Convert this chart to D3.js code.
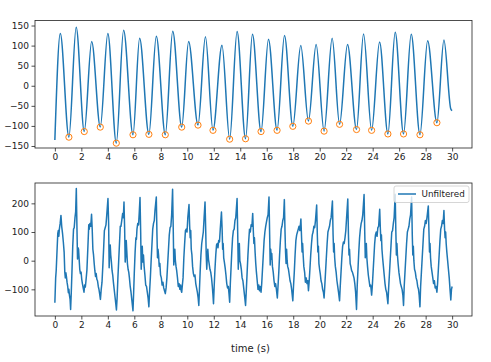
<!DOCTYPE html>
<html>
<head>
<meta charset="utf-8">
<script src="https://cdn.jsdelivr.net/npm/d3@7"></script>
<style>
  body { margin: 0; background: #fff; }
  svg text { font-family: "DejaVu Sans", sans-serif; fill: #222; }
  .axis text { font-size: 9px; }
  .axis path { display: none; }
  .axis line { stroke: #222; stroke-width: 0.8; }
</style>
</head>
<body>
<div class="viz"></div>
<script>
// Filtered signal: turning points (time in s, value), joined with a smooth curve
var filteredTime = [0, 0.41, 1.06, 1.61, 2.22, 2.78, 3.43, 4.0, 4.64, 5.19, 5.9, 6.4, 7.1, 7.66, 8.34,
                    8.9, 9.58, 10.1, 10.81, 11.37, 11.94, 12.62, 13.2, 13.76, 14.4, 14.92, 15.57, 16.13,
                    16.78, 17.34, 17.97, 18.57, 19.15, 19.73, 20.33, 20.94, 21.5, 22.1, 22.78, 23.31,
                    23.92, 24.52, 25.15, 25.7, 26.33, 26.91, 27.57, 28.15, 28.85, 29.38, 29.9, 30];
var filteredValue = [-135, 130, -128, 146, -114, 110, -103, 130, -143, 138, -122, 118, -121, 123, -122,
                     136, -103, 110, -98, 122, -111, 101, -133, 135, -132, 128, -114, 116,
                     -111, 125, -101, 100, -88, 103, -113, 118, -96, 103, -109, 129,
                     -111, 109, -120, 133, -120, 128, -122, 112, -92, 114, -58, -62];

// Detected troughs (orange circles)
var troughTime = [1.06, 2.22, 3.43, 4.64, 5.9, 7.1, 8.34, 9.58, 10.81, 11.94, 13.2, 14.4,
                  15.57, 16.78, 17.97, 19.15, 20.33, 21.5, 22.78, 23.92, 25.15, 26.33, 27.57, 28.85];
var troughValue = [-128, -114, -103, -143, -122, -121, -122, -103, -98, -111, -133, -132,
                   -114, -111, -101, -88, -113, -96, -109, -111, -120, -120, -122, -92];

// Unfiltered signal [time, value]
var unfiltered = [
  [0.00,-147],[0.06,-60],[0.10,-35],[0.16,30],[0.22,95],[0.26,105],[0.30,85],[0.34,110],[0.40,130],[0.46,158],[0.52,118],[0.58,95],[0.64,65],[0.70,30],[0.75,-40],[0.79,-60],[0.83,-42],[0.87,-55],[0.92,-75],[0.97,-90],[1.02,-112],[1.06,-100],[1.10,-120],[1.15,-135],[1.19,-170],
  [1.24,-110],[1.29,-40],[1.35,50],[1.41,110],[1.46,115],[1.52,150],[1.57,170],[1.62,252],[1.67,110],[1.71,6],[1.75,45],[1.79,40],[1.83,8],[1.88,-30],[1.93,-45],[1.98,-40],[2.03,-65],[2.08,-80],[2.14,-95],[2.20,-110],
  [2.25,-85],[2.30,-92],[2.35,-70],[2.42,-33],[2.50,55],[2.56,125],[2.60,110],[2.65,130],[2.71,120],[2.77,162],[2.82,110],[2.87,40],[2.92,20],[2.97,-10],[3.02,-35],[3.07,-55],[3.12,-45],[3.17,-65],[3.22,-70],[3.28,-90],[3.33,-100],[3.38,-115],[3.44,-135],
  [3.50,-100],[3.56,-75],[3.62,-20],[3.68,40],[3.74,105],[3.80,115],[3.86,125],[3.92,160],[4.01,217],[4.06,130],[4.10,-25],[4.14,35],[4.18,55],[4.22,20],[4.27,-5],[4.32,-35],[4.37,-50],[4.42,-75],[4.48,-100],[4.54,-125],[4.60,-150],[4.65,-172],
  [4.70,-130],[4.76,-60],[4.82,0],[4.88,60],[4.94,120],[4.99,120],[5.05,140],[5.12,165],[5.17,150],[5.22,205],[5.27,110],[5.31,-5],[5.35,20],[5.39,70],[5.43,35],[5.48,-10],[5.53,-30],[5.58,-40],[5.63,-60],[5.69,-90],[5.75,-110],[5.82,-140],[5.90,-175],
  [5.95,-110],[6.00,-40],[6.06,30],[6.12,80],[6.16,75],[6.20,110],[6.26,130],[6.32,125],[6.37,165],[6.43,220],[6.48,100],[6.52,-30],[6.56,10],[6.60,50],[6.64,-5],[6.69,20],[6.74,-20],[6.80,-50],[6.86,-85],[6.92,-90],[6.98,-110],[7.04,-130],[7.10,-161],
  [7.15,-110],[7.21,-60],[7.27,0],[7.33,55],[7.39,110],[7.45,130],[7.51,140],[7.56,175],[7.66,222],[7.71,90],[7.75,10],[7.79,40],[7.83,20],[7.88,-20],[7.93,-10],[7.98,-50],[8.04,-60],[8.10,-85],[8.16,-75],[8.22,-95],[8.28,-105],[8.34,-115],
  [8.40,-95],[8.46,-60],[8.52,-10],[8.58,40],[8.64,90],[8.70,115],[8.76,120],[8.82,160],[8.89,249],[8.94,110],[8.98,-15],[9.02,30],[9.06,40],[9.10,0],[9.15,-20],[9.20,-35],[9.26,-60],[9.32,-90],[9.38,-80],[9.44,-100],[9.50,-85],[9.54,-105],[9.58,-110],
  [9.63,-85],[9.68,-60],[9.74,10],[9.80,60],[9.86,105],[9.92,110],[9.98,100],[10.04,150],[10.13,196],[10.18,120],[10.22,80],[10.26,105],[10.30,40],[10.35,20],[10.40,-20],[10.46,-45],[10.52,-55],[10.58,-50],[10.64,-80],[10.70,-95],[10.76,-110],[10.82,-130],[10.87,-156],
  [10.92,-100],[10.97,-40],[11.03,20],[11.09,60],[11.15,80],[11.21,100],[11.27,150],[11.34,205],[11.39,110],[11.43,20],[11.47,-30],[11.51,10],[11.55,40],[11.60,5],[11.65,-10],[11.71,-30],[11.77,-40],[11.83,-60],[11.89,-90],[11.94,-120],[11.98,-150],
  [12.03,-90],[12.09,-30],[12.15,20],[12.21,55],[12.27,60],[12.32,45],[12.37,70],[12.43,65],[12.49,110],[12.58,170],[12.63,110],[12.67,40],[12.71,60],[12.75,10],[12.80,-5],[12.86,-25],[12.92,-50],[12.98,-80],[13.04,-95],[13.10,-90],[13.15,-115],[13.20,-145],
  [13.25,-80],[13.30,-30],[13.36,30],[13.42,80],[13.48,105],[13.54,110],[13.60,140],[13.66,150],[13.76,217],[13.81,90],[13.85,-30],[13.89,40],[13.93,60],[13.97,0],[14.02,-10],[14.08,-30],[14.14,-60],[14.20,-70],[14.26,-95],[14.32,-120],[14.40,-156],
  [14.46,-100],[14.52,-40],[14.58,20],[14.64,70],[14.70,110],[14.76,100],[14.82,125],[14.88,120],[14.94,165],[14.99,100],[15.03,60],[15.07,80],[15.12,30],[15.17,-10],[15.22,-40],[15.28,-70],[15.34,-100],[15.40,-85],[15.45,-105],[15.50,-90],[15.57,-110],
  [15.62,-80],[15.68,-30],[15.74,20],[15.80,70],[15.86,100],[15.92,120],[15.98,135],[16.04,150],[16.10,160],[16.17,222],[16.22,90],[16.26,-15],[16.30,40],[16.34,5],[16.38,25],[16.43,-20],[16.49,-40],[16.55,-70],[16.61,-90],[16.67,-80],[16.73,-100],[16.80,-130],
  [16.85,-90],[16.91,-40],[16.97,20],[17.03,70],[17.09,110],[17.15,120],[17.21,140],[17.27,150],[17.33,213],[17.38,100],[17.42,30],[17.46,-10],[17.50,40],[17.54,0],[17.58,-20],[17.64,-30],[17.70,-50],[17.76,-70],[17.82,-80],[17.88,-100],[17.97,-140],
  [18.02,-90],[18.08,-40],[18.14,20],[18.20,70],[18.26,90],[18.32,100],[18.38,110],[18.44,120],[18.50,105],[18.58,145],[18.63,80],[18.67,30],[18.71,60],[18.75,20],[18.80,-20],[18.86,-40],[18.92,-75],[18.98,-60],[19.04,-80],[19.10,-70],[19.15,-105],
  [19.20,-75],[19.26,-30],[19.32,20],[19.38,60],[19.44,90],[19.50,100],[19.56,120],[19.62,115],[19.68,140],[19.77,194],[19.82,90],[19.86,30],[19.90,50],[19.94,-10],[19.99,-30],[20.04,-45],[20.10,-70],[20.16,-80],[20.22,-100],[20.28,-110],[20.33,-130],
  [20.38,-90],[20.44,-40],[20.50,10],[20.56,60],[20.62,100],[20.68,110],[20.74,120],[20.80,140],[20.86,150],[20.96,208],[21.01,90],[21.05,30],[21.09,60],[21.13,10],[21.18,-20],[21.24,-40],[21.30,-70],[21.36,-90],[21.42,-110],[21.50,-140],
  [21.55,-90],[21.61,-40],[21.67,10],[21.73,50],[21.79,65],[21.85,60],[21.91,80],[21.97,105],[22.03,150],[22.12,215],[22.17,90],[22.21,20],[22.25,40],[22.30,-10],[22.35,-20],[22.41,-35],[22.47,-40],[22.53,-50],[22.59,-60],[22.65,-80],[22.71,-110],[22.78,-170],
  [22.83,-90],[22.89,-30],[22.95,30],[23.01,80],[23.07,110],[23.13,130],[23.19,140],[23.25,160],[23.35,231],[23.40,100],[23.44,10],[23.48,50],[23.52,60],[23.56,10],[23.61,-20],[23.67,-50],[23.73,-70],[23.79,-90],[23.85,-85],[23.92,-120],
  [23.97,-90],[24.03,-40],[24.09,10],[24.15,60],[24.21,90],[24.27,100],[24.33,85],[24.39,115],[24.45,120],[24.53,179],[24.58,110],[24.62,70],[24.66,90],[24.70,40],[24.75,10],[24.81,-20],[24.87,-50],[24.93,-80],[24.99,-100],[25.05,-110],[25.15,-150],
  [25.20,-100],[25.26,-50],[25.32,0],[25.38,50],[25.44,100],[25.50,105],[25.56,130],[25.62,150],[25.70,232],[25.75,100],[25.79,20],[25.83,60],[25.87,20],[25.92,-10],[25.98,-40],[26.04,-60],[26.10,-80],[26.16,-90],[26.22,-100],[26.28,-120],[26.33,-156],
  [26.38,-90],[26.44,-40],[26.50,10],[26.56,60],[26.62,100],[26.68,110],[26.74,120],[26.80,145],[26.86,160],[26.94,222],[26.99,90],[27.03,20],[27.07,50],[27.11,0],[27.16,-30],[27.22,-40],[27.28,-60],[27.34,-70],[27.40,-90],[27.46,-100],[27.51,-120],[27.57,-161],
  [27.62,-90],[27.68,-40],[27.74,10],[27.80,60],[27.86,110],[27.92,120],[27.98,140],[28.04,130],[28.10,150],[28.20,191],[28.25,100],[28.29,30],[28.33,60],[28.37,10],[28.42,-20],[28.48,-40],[28.54,-60],[28.60,-80],[28.66,-70],[28.72,-95],[28.78,-90],[28.85,-110],
  [28.90,-80],[28.96,-30],[29.02,20],[29.08,70],[29.14,110],[29.20,120],[29.26,140],[29.32,130],[29.38,175],[29.43,110],[29.47,80],[29.51,100],[29.55,60],[29.60,30],[29.66,0],[29.72,-30],[29.78,-60],[29.84,-100],[29.90,-137],[29.95,-100],[30.00,-90]
];

// Tick values
var xTicks = d3.range(0, 31, 2);
var topTicks = [-150, -100, -50, 0, 50, 100, 150];
var bottomTicks = [-100, 0, 100, 200];
var legendLabel = 'Unfiltered';
var xLabel = 'time (s)';

var w = 491;
var h = 362;
var blue = '#1f77b4';
var orange = '#ff7f0e';

var svg = d3.select('.viz')
            .append('svg')
            .attr('width', w)
            .attr('height', h);

// Shared x scale (both panels have the same left/right edges)
var left = 35, right = 472;
var x = d3.scaleLinear().domain([-1.5, 31.5]).range([left, right]);

// Panel boxes
var top1 = 20.5, bot1 = 148;
var top2 = 183, bot2 = 316;

var yTop = d3.scaleLinear().domain([-155, 162.5]).range([bot1, top1]);
var yBot = d3.scaleLinear().domain([-193, 271]).range([bot2, top2]);

function drawAxes(y, ticks, yTopPx, yBotPx) {
  svg.append('g')
     .attr('class', 'axis')
     .attr('transform', 'translate(0,' + yBotPx + ')')
     .call(d3.axisBottom(x).tickValues(xTicks).tickSize(3.5).tickPadding(2.5).tickSizeOuter(0));
  svg.append('g')
     .attr('class', 'axis')
     .attr('transform', 'translate(' + left + ',0)')
     .call(d3.axisLeft(y).tickValues(ticks).tickSize(3.5).tickPadding(2.5).tickSizeOuter(0));
  // Frame
  svg.append('rect')
     .attr('x', left)
     .attr('y', yTopPx)
     .attr('width', right - left)
     .attr('height', yBotPx - yTopPx)
     .attr('fill', 'none')
     .attr('stroke', '#222')
     .attr('stroke-width', 0.8);
}

drawAxes(yTop, topTicks, top1, bot1);
drawAxes(yBot, bottomTicks, top2, bot2);

// Top panel: filtered line + troughs
var filtered = filteredTime.map(function(t, i) { return [t, filteredValue[i]]; });
var lineTop = d3.line()
                .x(function(d) { return x(d[0]); })
                .y(function(d) { return yTop(d[1]); })
                .curve(d3.curveMonotoneX);

svg.append('path')
   .datum(filtered)
   .attr('d', lineTop)
   .attr('fill', 'none')
   .attr('stroke', blue)
   .attr('stroke-width', 1.5);

svg.selectAll('.trough')
   .data(troughTime)
   .enter()
   .append('circle')
   .attr('class', 'trough')
   .attr('cx', function(d) { return x(d); })
   .attr('cy', function(d, i) { return yTop(troughValue[i]); })
   .attr('r', 3.1)
   .attr('fill', 'none')
   .attr('stroke', orange)
   .attr('stroke-width', 1);

// Bottom panel: unfiltered line
var lineBot = d3.line()
                .x(function(d) { return x(d[0]); })
                .y(function(d) { return yBot(d[1]); });

svg.append('path')
   .datum(unfiltered)
   .attr('d', lineBot)
   .attr('fill', 'none')
   .attr('stroke', blue)
   .attr('stroke-width', 1.5)
   .attr('stroke-linejoin', 'round');

// Legend (upper right of bottom panel)
var lg = svg.append('g').attr('transform', 'translate(' + (right - 78) + ',' + (top2 + 3) + ')');
lg.append('rect')
  .attr('width', 75)
  .attr('height', 16.5)
  .attr('rx', 2)
  .attr('fill', '#fff')
  .attr('fill-opacity', 0.8)
  .attr('stroke', '#ccc')
  .attr('stroke-width', 0.8);
lg.append('line')
  .attr('x1', 4).attr('x2', 22)
  .attr('y1', 8).attr('y2', 8)
  .attr('stroke', blue)
  .attr('stroke-width', 1.5);
lg.append('text')
  .attr('x', 27.5)
  .attr('y', 11.3)
  .attr('font-size', '8.8px')
  .text(legendLabel);

// x label
svg.append('text')
   .attr('x', (left + right) / 2 - 3)
   .attr('y', 352)
   .attr('text-anchor', 'middle')
   .attr('font-size', '10px')
   .text(xLabel);
</script>
</body>
</html>
